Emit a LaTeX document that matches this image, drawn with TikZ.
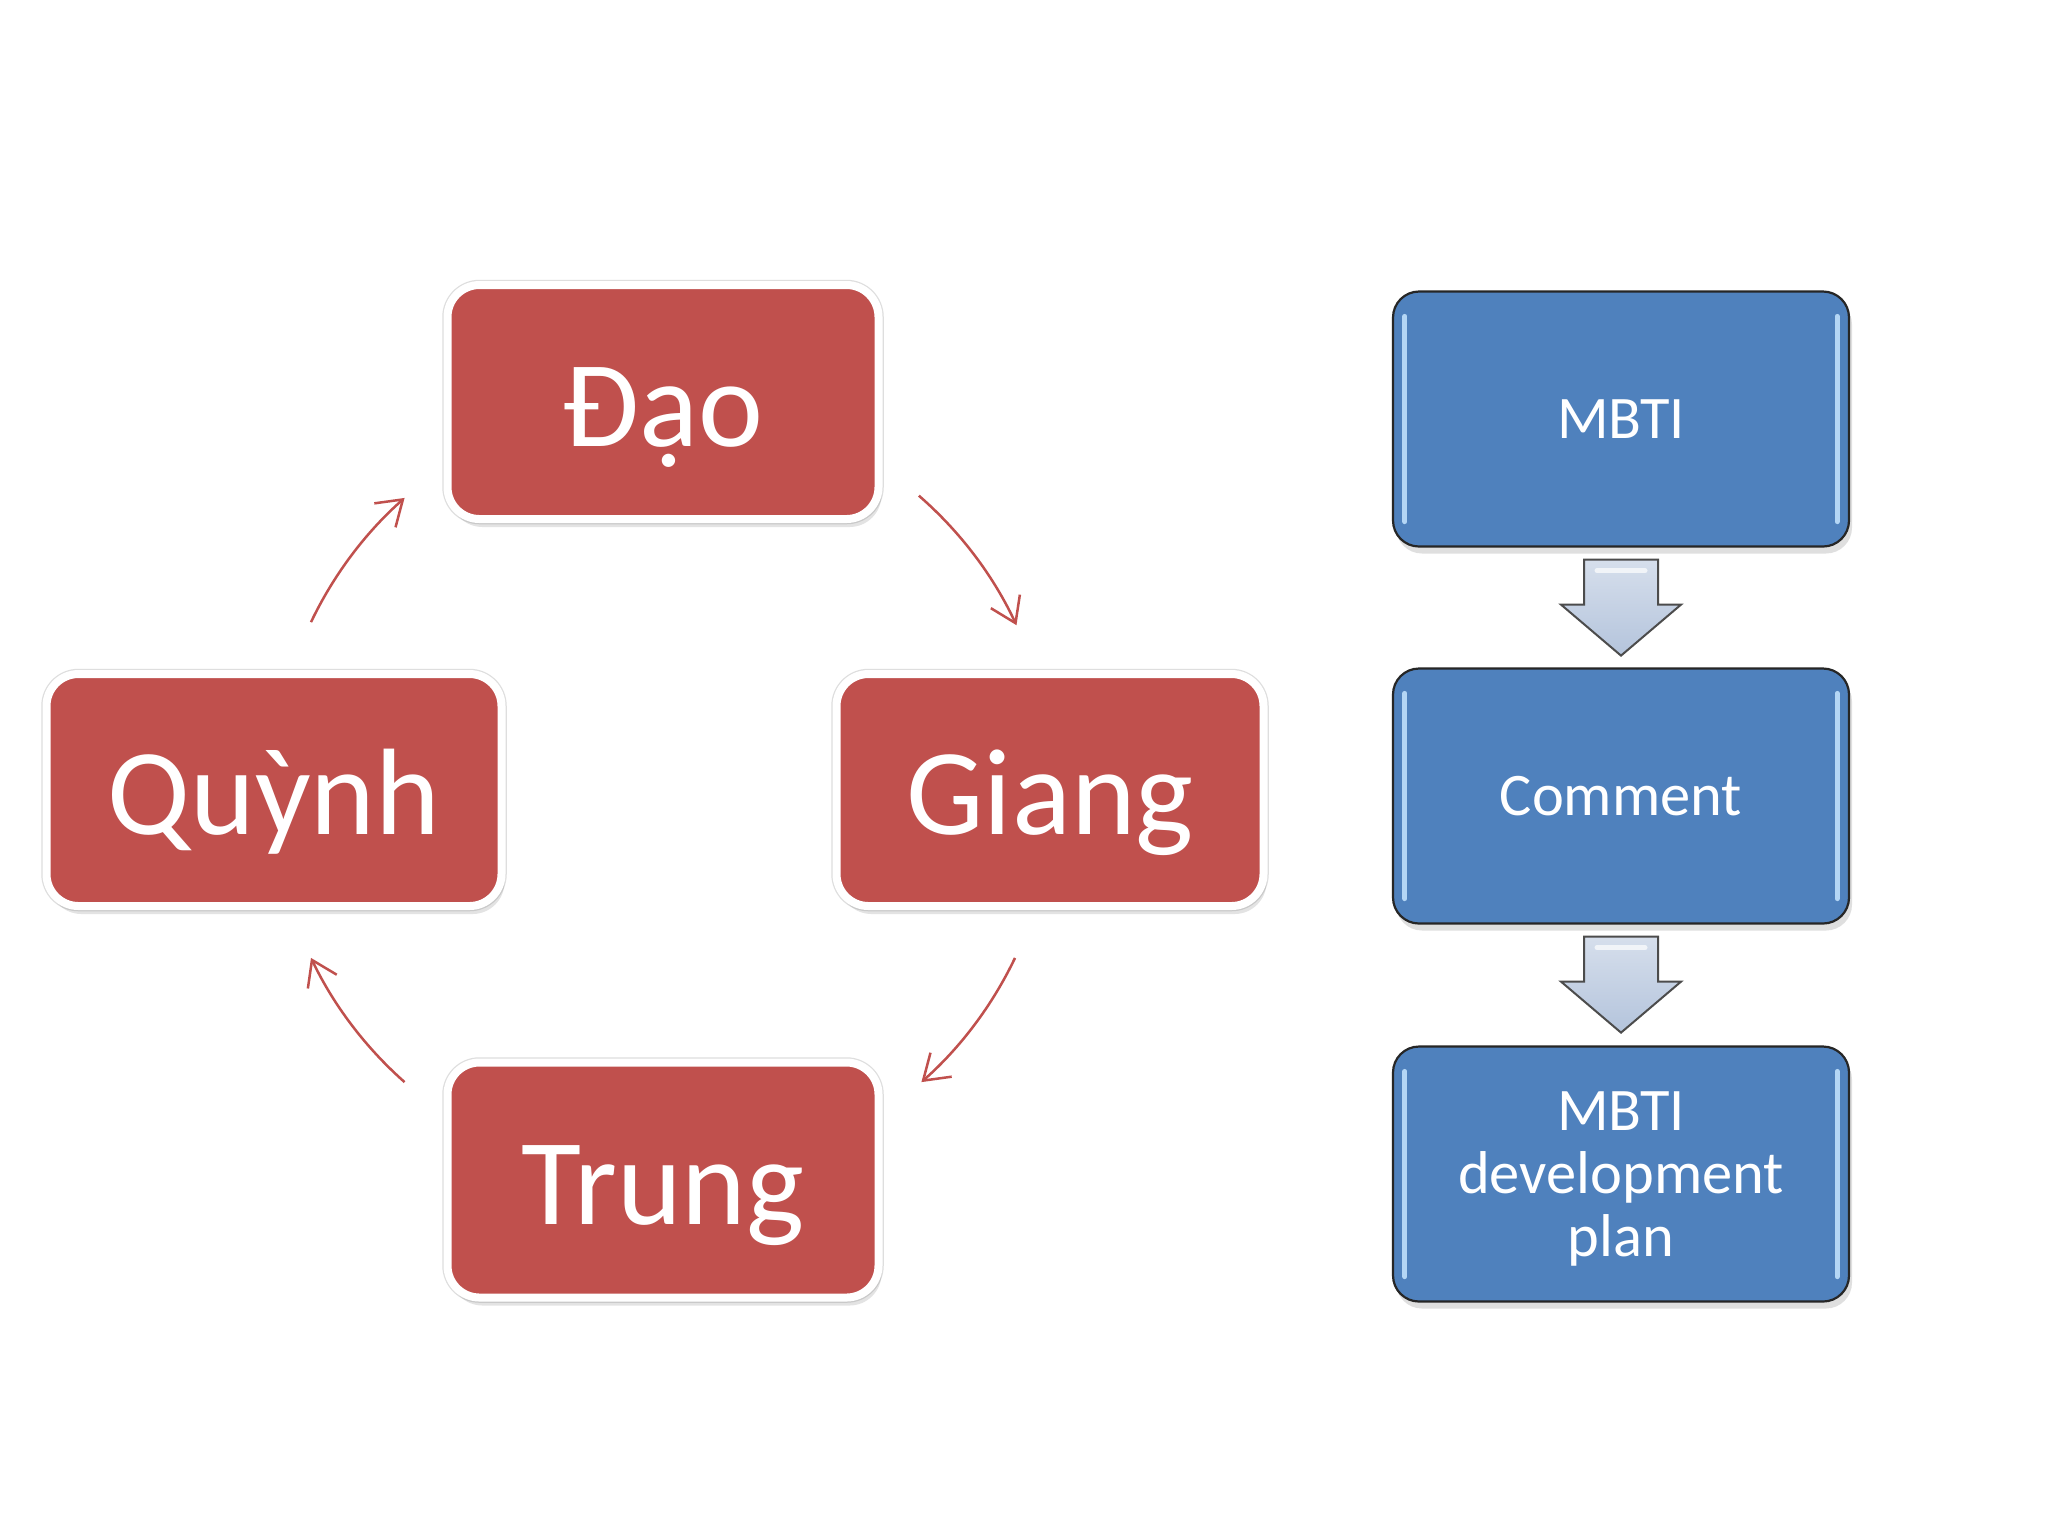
\documentclass[tikz,border=0pt]{standalone}
\usepackage{fontspec}
\setmainfont{Carlito}
\usetikzlibrary{arrows.meta,shadows,calc}
\definecolor{redbox}{HTML}{C0504D}
\definecolor{bluebox}{HTML}{4F81BD}
\definecolor{arrowfill}{HTML}{B4C4DC}
\definecolor{bluehl}{HTML}{C6E6FF}
\tikzset{
  redstep/.style={draw=white, line width=0.8mm, fill=redbox, rounded corners=3.2mm,
    preaction={draw=black!13, line width=1.05mm},
    text=white, font=\fontsize{35}{40}\selectfont, inner sep=0pt,
    text height=8.8mm, text depth=0mm,
    drop shadow={opacity=0.22, shadow xshift=0.3mm, shadow yshift=-0.8mm}},
  bluestep/.style={draw=black!85, line width=0.22mm, fill=bluebox, rounded corners=2.6mm,
    minimum width=45.6mm, minimum height=25.5mm, text=white, align=center,
    font=\fontsize{17.2}{17.9}\selectfont, inner sep=0pt,
    drop shadow={opacity=0.25, shadow xshift=0.3mm, shadow yshift=-0.7mm}},
  cyc/.style={draw=redbox, line width=0.25mm, -{Straight Barb[length=2.4mm,width=3.2mm]}},
  blockarrow/.style={draw=black!70, line width=0.2mm, line join=miter,
    top color=arrowfill!55!white, bottom color=arrowfill},
  hl/.style={draw=bluehl, line width=0.5mm, line cap=round, opacity=0.85}
}
\begin{document}
\begin{tikzpicture}[x=0.1mm,y=-0.1mm]
\useasboundingbox[fill=white] (0,0) rectangle (2048,1536);
% red cycle
\node[redstep, minimum width=43.1mm, minimum height=23.4mm] (dao) at (663,402) {Đạo};
\node[redstep, minimum width=42.7mm, minimum height=23.2mm] (giang) at (1050,790) {Giang};
\node[redstep, minimum width=43.1mm, minimum height=23.5mm] (trung) at (663,1180) {Trung};
\node[redstep, minimum width=45.5mm, minimum height=23.2mm] (quynh) at (274,790) {Quỳnh};
\coordinate (ctr) at (663,790);
\draw[cyc] ($(ctr)+(-49:390)$) arc (-49:-25:390);
\draw[cyc] ($(ctr)+(25.5:390)$) arc (25.5:48.5:390);
\draw[cyc] ($(ctr)+(131.5:390)$) arc (131.5:154.5:390);
\draw[cyc] ($(ctr)+(-154.5:390)$) arc (-154.5:-131.5:390);
% blue flow
\node[bluestep] (m1) at (1621,419) {MBTI};
\node[bluestep] (m2) at (1621,796) {Comment};
\node[bluestep] (m3) at (1621,1174) {\rule{0pt}{4.9mm}MBTI\\development\\plan};
\foreach \b in {m1,m2,m3}{
  \draw[hl] ($(\b.north west)+(13,26)$) -- ($(\b.south west)+(13,-26)$);
  \draw[hl] ($(\b.north east)+(-13,26)$) -- ($(\b.south east)+(-13,-26)$);
}
\foreach \a/\b in {m1/m2,m2/m3}{
  \path[blockarrow] ($(\a.south)+(-37,12)$) -- ($(\a.south)+(37,12)$) -- ($(\a.south)+(37,57)$)
    -- ($(\a.south)+(60,57)$) -- ($(\a.south)+(0,108)$) -- ($(\a.south)+(-60,57)$)
    -- ($(\a.south)+(-37,57)$) -- cycle;
  \draw[white, opacity=0.7, line width=0.5mm, line cap=round] ($(\a.south)+(-24,23)$) -- ($(\a.south)+(24,23)$);
}
\end{tikzpicture}
\end{document}
